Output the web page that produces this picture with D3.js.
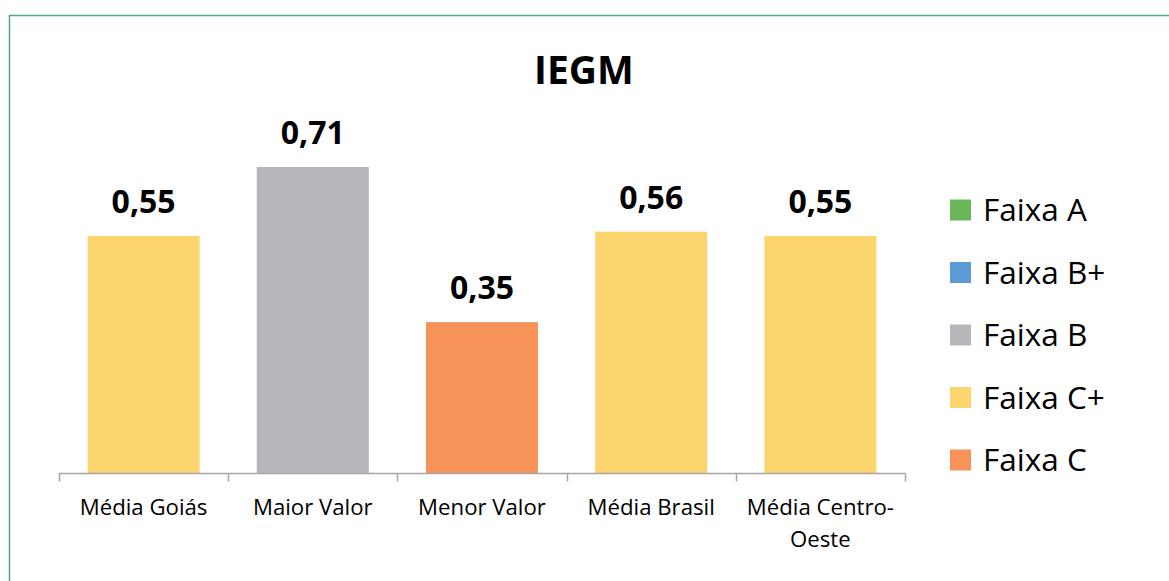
<!DOCTYPE html>
<html><head><meta charset="utf-8">
<script src="https://cdn.jsdelivr.net/npm/d3@7"></script>
<style>html,body{margin:0;padding:0;background:#fff;}svg{display:block;}</style>
</head><body>
<svg id="c" width="1169" height="581"></svg>
<script>
const categories = ["Média Goiás", "Maior Valor", "Menor Valor", "Média Brasil", "Média Centro-Oeste"];
const values = [0.55, 0.71, 0.35, 0.56, 0.55];
const valueLabels = ["0,55", "0,71", "0,35", "0,56", "0,55"];
const bands = ["Faixa C+", "Faixa B", "Faixa C", "Faixa C+", "Faixa C+"];
const legendLabels = ["Faixa A", "Faixa B+", "Faixa B", "Faixa C+", "Faixa C"];
const legendColors = ["#6bb65a", "#5b9bd5", "#b6b7bb", "#fcd56e", "#f79258"];

const svg = d3.select("#c");
const font = "'Open Sans', sans-serif";

svg.append("rect").attr("x", 9.5).attr("y", 15.5).attr("width", 1200).attr("height", 600)
  .attr("fill", "#fff").attr("stroke", "#4ea68c").attr("stroke-width", 1.5);

const color = d3.scaleOrdinal().domain(legendLabels).range(legendColors);
const x = d3.scaleBand().domain(categories).range([59, 905]).paddingInner(0.338).paddingOuter(0.169);
const y = d3.scaleLinear().domain([0, 1]).range([473, 42]);

svg.append("text").attr("x", 584).attr("y", 84).attr("text-anchor", "middle")
  .attr("font-family", font).attr("font-weight", 700).attr("font-size", 39).attr("fill", "#000").text("IEGM");

svg.selectAll("rect.bar").data(categories).enter().append("rect").attr("class", "bar")
  .attr("x", d => x(d)).attr("width", x.bandwidth())
  .attr("y", (d, i) => y(values[i])).attr("height", (d, i) => y(0) - y(values[i]))
  .attr("fill", (d, i) => color(bands[i]));

svg.selectAll("text.val").data(categories).enter().append("text").attr("class", "val")
  .attr("x", d => x(d) + x.bandwidth() / 2).attr("y", (d, i) => y(values[i]) - 23)
  .attr("text-anchor", "middle").attr("font-family", font).attr("font-weight", 700)
  .attr("font-size", 32).attr("fill", "#000").text((d, i) => valueLabels[i]);

// axis
const xb = d3.scaleLinear().domain([0, categories.length]).range([59, 905]);
const ax = svg.append("g").attr("transform", "translate(0,473.5)");
ax.append("line").attr("x1", 59).attr("x2", 905).attr("stroke", "#a6a6a6").attr("stroke-width", 1.5);
ax.selectAll("line.t").data(d3.range(categories.length + 1)).enter().append("line").attr("class", "t")
  .attr("x1", d => Math.round(xb(d)) + 0.5).attr("x2", d => Math.round(xb(d)) + 0.5)
  .attr("y1", 0).attr("y2", 8).attr("stroke", "#a6a6a6").attr("stroke-width", 1.5);

const labelLines = [["Média Goiás"], ["Maior Valor"], ["Menor Valor"], ["Média Brasil"], ["Média Centro-", "Oeste"]];
categories.forEach((c, i) => {
  const t = svg.append("text").attr("x", x(c) + x.bandwidth() / 2).attr("y", 515)
    .attr("text-anchor", "middle").attr("font-family", font).attr("font-size", 22.2).attr("fill", "#000");
  labelLines[i].forEach((l, j) => {
    t.append("tspan").attr("x", x(c) + x.bandwidth() / 2).attr("dy", j === 0 ? 0 : 32).text(l);
  });
});

// legend
const ly = d3.scalePoint().domain(legendLabels).range([210, 460]);
const lg = svg.selectAll("g.leg").data(legendLabels).enter().append("g").attr("class", "leg")
  .attr("transform", d => `translate(950,${ly(d)})`);
lg.append("rect").attr("x", 0).attr("y", -10.5).attr("width", 21).attr("height", 21).attr("fill", d => color(d));
lg.append("text").attr("x", 33).attr("y", 11).attr("font-family", font).attr("font-size", 31.5)
  .attr("fill", "#000").text(d => d);
</script>
</body></html>
